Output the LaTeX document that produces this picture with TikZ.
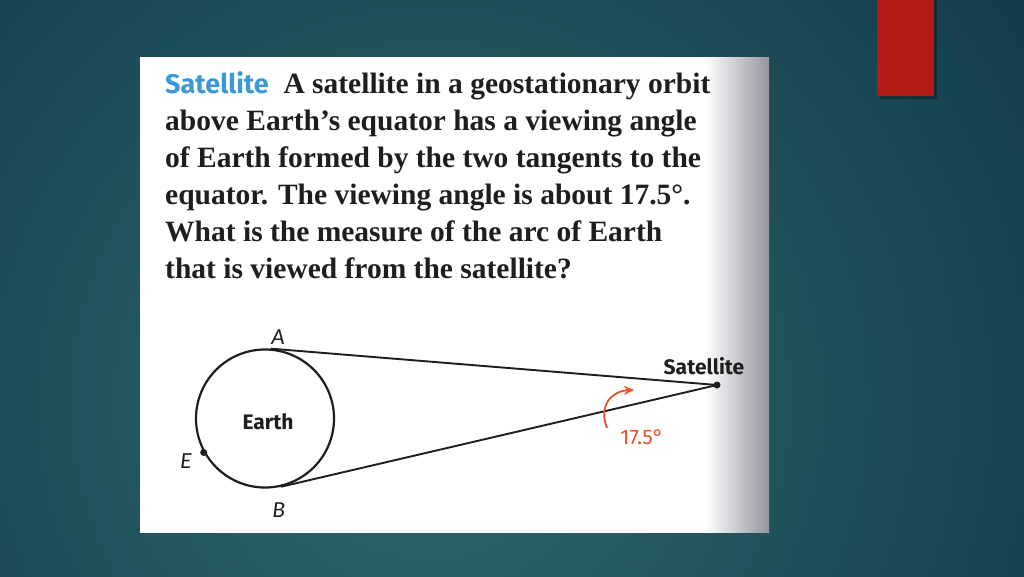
\documentclass[tikz,border=0pt]{standalone}
\usepackage{fontspec}
\setmainfont{Liberation Serif}
\newfontfamily\labelfont{Fira Sans}
\newfontfamily\italfont{Carlito}
\usetikzlibrary{calc,arrows.meta}
\definecolor{bginner}{HTML}{2D6A6D}
\definecolor{bgouter}{HTML}{133B4B}
\definecolor{boxred}{HTML}{B21A16}
\definecolor{titleblue}{HTML}{3A9AD6}
\definecolor{anglered}{HTML}{E8502F}
\definecolor{ink}{HTML}{1E1E1E}
\definecolor{edgegray}{HTML}{96949F}
\tikzset{
  body/.style={anchor=base west, inner sep=0pt, text=ink, font=\fontsize{29.5}{34}\selectfont\bfseries},
  lbl/.style={inner sep=0pt, text=ink, font=\labelfont\fontsize{21}{24}\selectfont\bfseries},
  pointlbl/.style={inner sep=0pt, text=ink, font=\italfont\fontsize{23}{24}\selectfont\itshape},
  geo/.style={draw=ink, line width=2.2pt},
}
\begin{document}
\begin{tikzpicture}[x=1pt,y=-1pt]
\useasboundingbox (0,0) rectangle (1024,576);
% background
\begin{scope}
\clip (0,0) rectangle (1024,576);
\fill[bgouter] (0,0) rectangle (1024,576);
\shade[inner color=bginner, outer color=bgouter] (430-720,400-720) rectangle (430+720,400+720);
\end{scope}
% red box with shadow
\fill[black, opacity=0.3] (880,0) rectangle (937,99);
\fill[boxred] (877,0) rectangle (934,96);
% white panel
\fill[white] (140,57) rectangle (769,533);
\begin{scope}
\clip (700,57.5) rectangle (769,532.5);
\shade[left color=white, right color=edgegray] (705,50) rectangle (769,540);
\end{scope}
% text
\node[body] (l1) at (165,93) {{\labelfont\fontsize{27}{30}\selectfont\color{titleblue}Satellite}\ \ A satellite in a geostationary orbit};
\node[body] (l2) at (165,130) {above Earth’s equator has a viewing angle};
\node[body] (l3) at (165,167) {of Earth formed by the two tangents to the};
\node[body] (l4) at (165,204) {equator. The viewing angle is about 17.5°.};
\node[body] (l5) at (165,241) {What is the measure of the arc of Earth};
\node[body] (l6) at (165,278) {that is viewed from the satellite?};
% diagram
\node[circle, geo, minimum size=138pt, inner sep=0pt] (earth) at (265,418.5) {};
\node[lbl] (earthlbl) at (268,422) {Earth};
\coordinate (S) at (717,385);
\coordinate (A) at (tangent cs:node=earth,point={(S)},solution=2);
\coordinate (B) at (tangent cs:node=earth,point={(S)},solution=1);
\draw[geo, line width=1.9pt] (S) -- (A);
\draw[geo, line width=1.9pt] (S) -- (B);
\fill[ink] (S) circle (3.5pt);
\fill[ink] (earth.209) circle (3.5pt);
\node[lbl] (satlbl) at (704,366) {Satellite};
\node[pointlbl] (alb) at (278,337) {A};
\node[pointlbl] (blb) at (279,510) {B};
\node[pointlbl] (elb) at (186,461) {E};
% angle marker
\coordinate (m1) at (607,428);
\coordinate (m2) at (634,390);
\draw[anglered, line width=1.8pt, -{Stealth[length=10pt,width=9pt]}] (m1) .. controls (598,405) and (612,391) .. (m2);
\node[inner sep=0pt, text=anglered, font=\labelfont\fontsize{21}{24}\selectfont] (ang) at (642,437) {17.5°};
\end{tikzpicture}
\end{document}
